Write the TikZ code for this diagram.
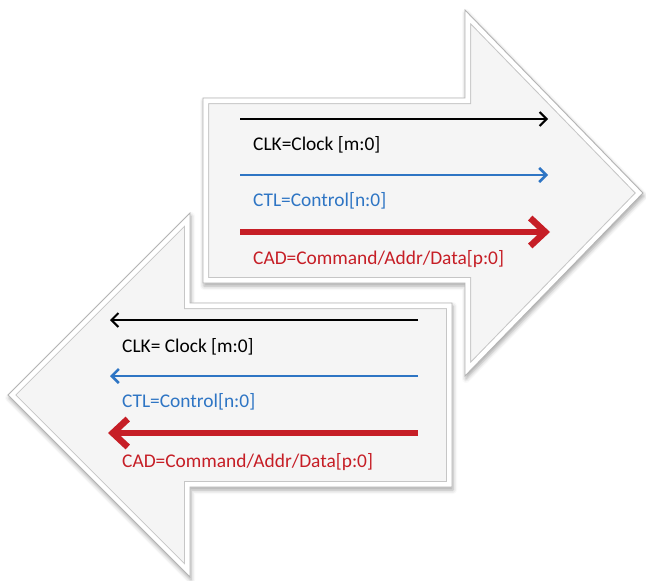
\documentclass[tikz,border=0pt]{standalone}
\usepackage{fontspec}
\setmainfont{Carlito}
\usetikzlibrary{arrows.meta,shadows.blur}

\definecolor{sigblue}{RGB}{46,117,196}
\definecolor{sigred}{RGB}{198,30,38}
\definecolor{face}{RGB}{245,245,245}
\definecolor{rim}{RGB}{180,180,180}
\definecolor{innerrim}{RGB}{198,198,198}

% outlines of the two block arrows (units: 1pt, y pointing down)
\def\rightblock{(203,98) -- (465,98) -- (465,10) -- (643,193) -- (465,376) -- (465,283) -- (203,283) -- cycle}
\def\leftblock{(452,303) -- (190,303) -- (190,213) -- (8,395) -- (190,577) -- (190,487) -- (452,487) -- cycle}

\tikzset{
  panel/.style={fill=face, blur shadow={shadow xshift=1pt, shadow yshift=-3pt,
      shadow blur radius=4pt, shadow opacity=35}},
  bevelband/.style={white, line width=10pt, line join=miter},
  bevelline/.style={innerrim, line width=12pt, line join=miter},
  outline/.style={rim, line width=0.9pt, line join=miter},
  lbl/.style={inner sep=0pt, font=\fontsize{19.4}{23}\selectfont},
  clk/.style={black, line width=2pt, -{Straight Barb[length=7pt,width=14pt]}},
  ctl/.style={sigblue, line width=2.5pt, -{Straight Barb[length=7pt,width=14pt]}},
  cad/.style={sigred, line width=6.5pt, -{Straight Barb[length=15pt,width=28pt]}},
}

\begin{document}
\begin{tikzpicture}[x=1pt, y=-1pt]
\useasboundingbox (0,0) rectangle (646,581);

% ---- left-pointing block ----
\path[panel] \leftblock;
\begin{scope}
  \clip \leftblock;
  \draw[bevelline] \leftblock;
  \draw[bevelband] \leftblock;
\end{scope}
\draw[outline] \leftblock;

% ---- right-pointing block ----
\path[panel] \rightblock;
\begin{scope}
  \clip \rightblock;
  \draw[bevelline] \rightblock;
  \draw[bevelband] \rightblock;
\end{scope}
\draw[outline] \rightblock;

% ---- signals on the right-pointing block ----
\coordinate (rclkA) at (240,119);  \coordinate (rclkB) at (548,119);
\coordinate (rctlA) at (240,175);  \coordinate (rctlB) at (548,175);
\coordinate (rcadA) at (240,232);  \coordinate (rcadB) at (550,232);
\draw[clk] (rclkA) -- (rclkB);
\draw[ctl] (rctlA) -- (rctlB);
\draw[cad] (rcadA) -- (rcadB);
\node[lbl, anchor=base west] (rclk) at (253,150) {CLK=Clock [m:0]};
\node[lbl, anchor=base west, text=sigblue] (rctl) at (253,206) {CTL=Control[n:0]};
\node[lbl, anchor=base west, text=sigred] (rcad) at (253,264) {CAD=Command/Addr/Data[p:0]};

% ---- signals on the left-pointing block ----
\coordinate (lclkA) at (418,320);  \coordinate (lclkB) at (110,320);
\coordinate (lctlA) at (418,376);  \coordinate (lctlB) at (110,376);
\coordinate (lcadA) at (418,433);  \coordinate (lcadB) at (108,433);
\draw[clk] (lclkA) -- (lclkB);
\draw[ctl] (lctlA) -- (lctlB);
\draw[cad] (lcadA) -- (lcadB);
\node[lbl, anchor=base west] (lclk) at (122,352) {CLK= Clock [m:0]};
\node[lbl, anchor=base west, text=sigblue] (lctl) at (122,407) {CTL=Control[n:0]};
\node[lbl, anchor=base west, text=sigred] (lcad) at (122,467) {CAD=Command/Addr/Data[p:0]};
\end{tikzpicture}
\end{document}
